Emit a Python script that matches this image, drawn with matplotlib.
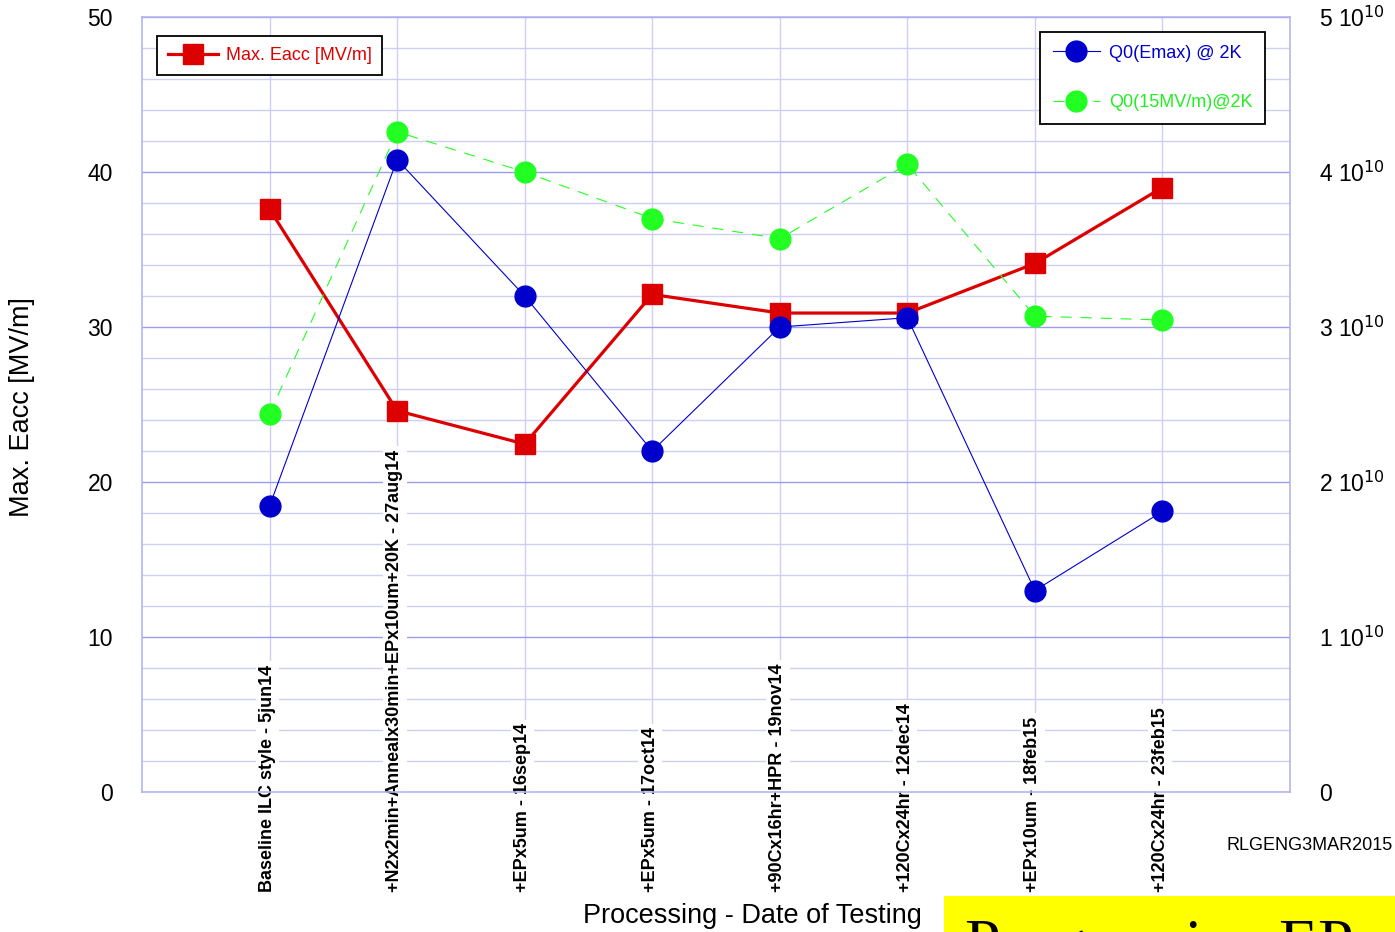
import numpy as np
import matplotlib.pyplot as plt
import matplotlib.transforms as mtransforms
from matplotlib.patches import Rectangle
from matplotlib.ticker import MultipleLocator, FixedLocator

plt.rcParams['font.family'] = ['Liberation Sans', 'DejaVu Sans']

# Etapas de processamento / datas de teste
etapas = [
    "Baseline ILC style - 5jun14",
    "+N2x2min+Annealx30min+EPx10um+20K - 27aug14",
    "+EPx5um - 16sep14",
    "+EPx5um - 17oct14",
    "+90Cx16hr+HPR - 19nov14",
    "+120Cx24hr - 12dec14",
    "+EPx10um - 18feb15",
    "+120Cx24hr - 23feb15",
]

# Campo acelerador maximo [MV/m]
eacc_max = [37.6, 24.6, 22.45, 32.1, 30.9, 30.9, 34.1, 39.0]

# Fator de qualidade Q0
q0_emax = [1.845e10, 4.08e10, 3.2e10, 2.2e10, 3.0e10, 3.06e10, 1.3e10, 1.81e10]
q0_15mvm = [2.44e10, 4.26e10, 4.0e10, 3.7e10, 3.57e10, 4.05e10, 3.07e10, 3.045e10]

q0_ticks = [0, 1e10, 2e10, 3e10, 4e10, 5e10]
q0_ticklabels = ["0", r"1 10$^{10}$", r"2 10$^{10}$", r"3 10$^{10}$",
                 r"4 10$^{10}$", r"5 10$^{10}$"]

W, H = 1395, 932
fig = plt.figure(figsize=(W / 100, H / 100), dpi=100)
ax = fig.add_axes([142 / W, 1 - 792 / H, (1290 - 142) / W, (792 - 17) / H])

x = np.arange(1, len(etapas) + 1)
grid_maj = '#9c9cee'
grid_min = '#cfcff5'

ax.set_xlim(0, len(etapas) + 1)
ax.set_ylim(0, 50)
ax.yaxis.set_major_locator(MultipleLocator(10))
ax.yaxis.set_minor_locator(MultipleLocator(2))
ax.xaxis.set_major_locator(FixedLocator(x))
ax.set_xticklabels([])
ax.grid(axis='y', which='major', color=grid_maj, lw=1.0, zorder=0)
ax.grid(axis='y', which='minor', color=grid_min, lw=1.0, zorder=0)
ax.grid(axis='x', which='major', color=grid_min, lw=1.0, zorder=0)
ax.set_axisbelow(True)
ax.tick_params(which='both', length=0, labelsize=16.5, pad=21)
for s in ax.spines.values():
    s.set_color('#b4b4f0')
    s.set_linewidth(1.2)

ax.plot(x, eacc_max, color='#dd0000', lw=2.3, marker='s', ms=14,
        label='Max. Eacc [MV/m]', zorder=3)

leg1 = ax.legend(loc='upper left', bbox_to_anchor=((157 - 142) / 1148, (792 - 36) / 775),
                 borderaxespad=0, fontsize=13, fancybox=False, framealpha=1,
                 edgecolor='black', handlelength=2.8, borderpad=0.6,
                 handletextpad=0.4)
leg1.get_frame().set_linewidth(1.3)
for t in leg1.get_texts():
    t.set_color('#dd0000')

# Rotulos das etapas com fundo branco
trans = mtransforms.blended_transform_factory(ax.transData, fig.transFigure)
for xi, et in zip(x, etapas):
    ax.text(xi + 0.05, 1 - 892 / H, et, transform=trans, rotation=90,
            ha='right', va='bottom', fontsize=13, fontweight='bold',
            bbox=dict(facecolor='white', edgecolor='none', pad=2.5), zorder=2)

# Eixo da direita: Q0
ax2 = ax.twinx()
ax2.set_ylim(0, 5e10)
ax2.set_yticks(q0_ticks)
ax2.set_yticklabels(q0_ticklabels)
ax2.tick_params(length=0, labelsize=16.5, pad=21)
for s in ax2.spines.values():
    s.set_visible(False)

ax2.plot(x, q0_emax, color='#0000cc', lw=0.8, marker='o', ms=15,
         markeredgecolor='#0000cc', label='Q0(Emax) @ 2K', zorder=4)
ax2.plot(x, q0_15mvm, color='#22ff22', lw=0.8, ls=(0, (10, 8)), marker='o', ms=15,
         markeredgecolor='#22ff22', label='Q0(15MV/m)@2K', zorder=4)

leg2 = ax2.legend(loc='upper right', bbox_to_anchor=((1265 - 142) / 1148, (792 - 32) / 775),
                  borderaxespad=0, fontsize=13, fancybox=False, framealpha=1,
                  edgecolor='black', handlelength=2.6, borderpad=0.7,
                  labelspacing=1.8, handletextpad=0.5)
leg2.get_frame().set_linewidth(1.3)
for t, c in zip(leg2.get_texts(), ['#0000cc', '#22ee22']):
    t.set_color(c)

fig.text(22 / W, 1 - 407 / H, 'Max. Eacc [MV/m]', rotation=90, ha='center',
         va='center', fontsize=19.5)
fig.text(752 / W, 1 - 916 / H, 'Processing - Date of Testing', ha='center',
         va='center', fontsize=19.5)
fig.text(1393 / W, 1 - 845 / H, 'RLGENG3MAR2015', ha='right', va='center',
         fontsize=13)

# Faixa amarela com titulo no canto inferior
fig.patches.append(Rectangle((944 / W, 0), (W - 944) / W, (932 - 896) / H,
                             transform=fig.transFigure, facecolor='#ffff00',
                             edgecolor='none', zorder=5))
fig.text(965 / W, 1 - 963 / H, 'Progressive EP', ha='left', va='baseline',
         fontsize=46, family='Liberation Serif', zorder=6)

fig.savefig('out.png', dpi=100)
